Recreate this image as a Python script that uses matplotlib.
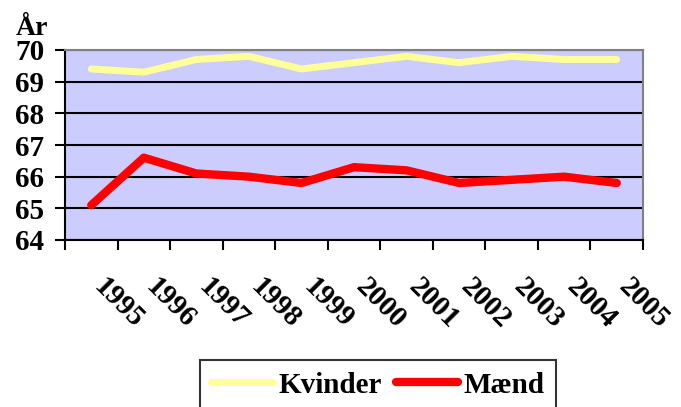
import matplotlib
matplotlib.use('Agg')
import matplotlib.pyplot as plt
import matplotlib.transforms as mtransforms

# Data
years = ['1995', '1996', '1997', '1998', '1999', '2000',
         '2001', '2002', '2003', '2004', '2005']
kvinder = [69.4, 69.3, 69.7, 69.8, 69.4, 69.6, 69.8, 69.6, 69.8, 69.7, 69.7]
maend = [65.1, 66.6, 66.1, 66.0, 65.8, 66.3, 66.2, 65.8, 65.9, 66.0, 65.8]


def main():
    plt.rcParams['font.family'] = ['Liberation Serif', 'DejaVu Serif']
    plt.rcParams['font.weight'] = 'bold'

    fig = plt.figure(figsize=(6.81, 4.07), dpi=100)
    ax = fig.add_axes([65 / 681, 1 - 240 / 407, (643 - 65) / 681, (240 - 50) / 407])
    ax.set_facecolor('#CCCCFF')

    x = list(range(len(years)))
    ax.plot(x, kvinder, color='#FFFF99', linewidth=5, label='Kvinder',
            solid_capstyle='round', solid_joinstyle='round', zorder=3)
    ax.plot(x, maend, color='#FF0000', linewidth=6, label='Mænd',
            solid_capstyle='round', solid_joinstyle='round', zorder=3)

    ax.set_xlim(-0.5, len(years) - 0.5)
    ax.set_ylim(64, 70)
    ax.set_yticks(range(64, 71))
    ax.yaxis.grid(True, color='black', linewidth=1.5)
    ax.set_axisbelow(True)

    # x ticks at category borders, labels drawn separately
    ax.set_xticks([i - 0.5 for i in range(len(years) + 1)])
    ax.set_xticklabels([])
    ax.tick_params(axis='both', direction='out', length=7, width=1.5, color='black')
    ax.tick_params(axis='y', labelsize=21, pad=8)

    for s in ['left', 'bottom']:
        ax.spines[s].set_color('black')
        ax.spines[s].set_linewidth(1.5)
    for s in ['top', 'right']:
        ax.spines[s].set_color('#808080')
        ax.spines[s].set_linewidth(1.5)

    trans = mtransforms.blended_transform_factory(ax.transData, ax.transAxes)
    offset = mtransforms.ScaledTranslation(16 / 100, -33 / 100, fig.dpi_scale_trans)
    for i, lab in enumerate(years):
        ax.text(i, 0, lab, transform=trans + offset, rotation=-45,
                rotation_mode='anchor', ha='left', va='top',
                fontsize=21, fontweight='bold')

    fig.text(16 / 681, 1 - 35 / 407, 'År', fontsize=20, fontweight='bold',
             ha='left', va='baseline')

    leg = fig.legend(loc='upper center', bbox_to_anchor=(378 / 681, 1 - 360 / 407),
                     ncol=2, fontsize=21, frameon=True, fancybox=False,
                     handlelength=2.1, columnspacing=0.5, handletextpad=0.2,
                     borderpad=0.4, borderaxespad=0)
    leg.get_frame().set_edgecolor('black')
    leg.get_frame().set_linewidth(1.5)

    fig.savefig('out.png', dpi=100)


if __name__ == '__main__':
    main()
